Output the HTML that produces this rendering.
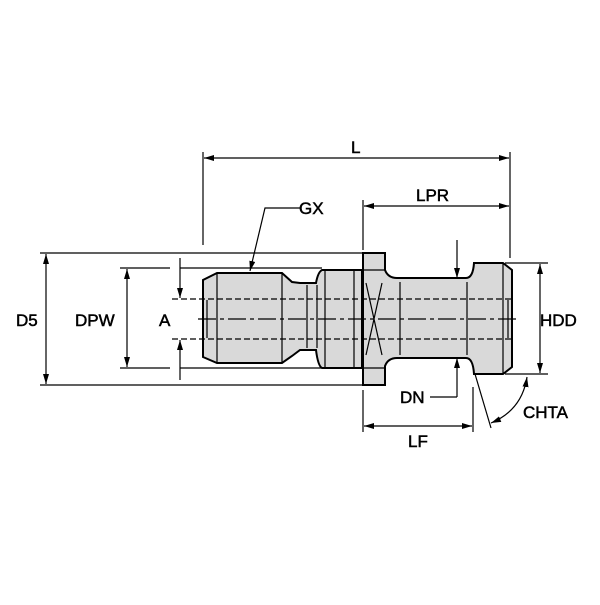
<!DOCTYPE html>
<html><head><style>body{margin:0;background:#fff}</style></head><body>
<svg width="600" height="600" viewBox="0 0 600 600" xmlns="http://www.w3.org/2000/svg" font-family="Liberation Sans, sans-serif" font-size="17">
<defs><marker id="a" viewBox="0 0 10 6" refX="10" refY="3" markerWidth="10" markerHeight="6" orient="auto-start-reverse" markerUnits="userSpaceOnUse"><path d="M0,0L10,3L0,6z" fill="#000"/></marker></defs>
<g stroke="#000" stroke-width="1.2" fill="none">
<line x1="40" y1="253" x2="362" y2="253"/><line x1="40" y1="385" x2="362" y2="385"/>
<line x1="120" y1="268" x2="170" y2="268"/><line x1="180" y1="268" x2="322" y2="268"/>
<line x1="120" y1="368" x2="170" y2="368"/><line x1="180" y1="368" x2="322" y2="368"/>
<line x1="203" y1="152" x2="203" y2="245"/><line x1="510" y1="152" x2="510" y2="258"/>
<line x1="363" y1="200" x2="363" y2="250"/><line x1="363" y1="390" x2="363" y2="432"/>
<line x1="473" y1="387" x2="473" y2="432"/>
<line x1="505" y1="263" x2="548" y2="263"/><line x1="505" y1="374" x2="548" y2="374"/>
<line x1="46" y1="254" x2="46" y2="384" marker-start="url(#a)" marker-end="url(#a)"/>
<line x1="127" y1="269" x2="127" y2="367" marker-start="url(#a)" marker-end="url(#a)"/>
<line x1="180" y1="258" x2="180" y2="298" marker-end="url(#a)"/>
<line x1="180" y1="380" x2="180" y2="340" marker-end="url(#a)"/>
<line x1="204" y1="158" x2="509" y2="158" marker-start="url(#a)" marker-end="url(#a)"/>
<line x1="364" y1="206" x2="509" y2="206" marker-start="url(#a)" marker-end="url(#a)"/>
<line x1="364" y1="426" x2="472" y2="426" marker-start="url(#a)" marker-end="url(#a)"/>
<line x1="540" y1="264" x2="540" y2="373" marker-start="url(#a)" marker-end="url(#a)"/>
<line x1="457" y1="240" x2="457" y2="278" marker-end="url(#a)"/>
<line x1="457" y1="397" x2="457" y2="358" marker-end="url(#a)"/>
<polyline points="430,397 457,397"/>
<polyline points="300,208 265,208 250,271" marker-end="url(#a)"/>
<line x1="475" y1="374" x2="491" y2="428"/>
<path d="M527,377 Q522,410 491,423" marker-start="url(#a)" marker-end="url(#a)"/>
</g>
<g stroke="#000" stroke-width="2" fill="#d9d9d9">
<path d="M217,273 L282,273 L292,282 L300,283 L316,283 Q318,272 322,270 L362,270 L362,368 L322,368 Q318,366 316,350 L300,350 L292,356 L282,363 L217,363 L203,357 L203,280 Z"/>
<path d="M363,253 L385,253 L385,270 Q388,278 397,278 L466,278 Q473,278 474,263 L503,263 L512,270 L512,367 L503,374 L474,374 Q473,358 466,358 L397,358 Q388,358 385,366 L385,385 L363,385 Z"/>
</g>
<g stroke="#000" stroke-width="1.2" fill="none">
<line x1="217" y1="273" x2="217" y2="363"/><line x1="282" y1="273" x2="282" y2="363"/>
<line x1="307" y1="285" x2="307" y2="348"/><line x1="317" y1="285" x2="317" y2="348"/>
<line x1="325" y1="271" x2="325" y2="367"/><line x1="354" y1="271" x2="354" y2="367"/>
<line x1="363" y1="270" x2="385" y2="270"/><line x1="363" y1="368" x2="385" y2="368"/>
<path d="M366,283 L382,355 M382,283 L366,355"/>
<line x1="400" y1="282" x2="400" y2="355"/><line x1="467" y1="282" x2="467" y2="355"/>
<line x1="503" y1="263" x2="503" y2="374"/><line x1="207" y1="300" x2="207" y2="338"/>
<line x1="508" y1="300" x2="508" y2="338"/>
<line x1="172" y1="299" x2="512" y2="299" stroke-dasharray="6,3"/>
<line x1="172" y1="339" x2="512" y2="339" stroke-dasharray="6,3"/>
<line x1="198" y1="319" x2="520" y2="319" stroke-dasharray="18,4,4,4"/>
</g>
<g fill="#000" stroke="#000" stroke-width="0.5">
<text x="16" y="326">D5</text><text x="75" y="326">DPW</text><text x="159" y="326">A</text>
<text x="351" y="153">L</text><text x="416" y="201">LPR</text><text x="299" y="214">GX</text>
<text x="540" y="326">HDD</text><text x="400" y="403">DN</text><text x="523" y="418">CHTA</text>
<text x="408" y="447">LF</text>
</g>
</svg>
</body></html>
